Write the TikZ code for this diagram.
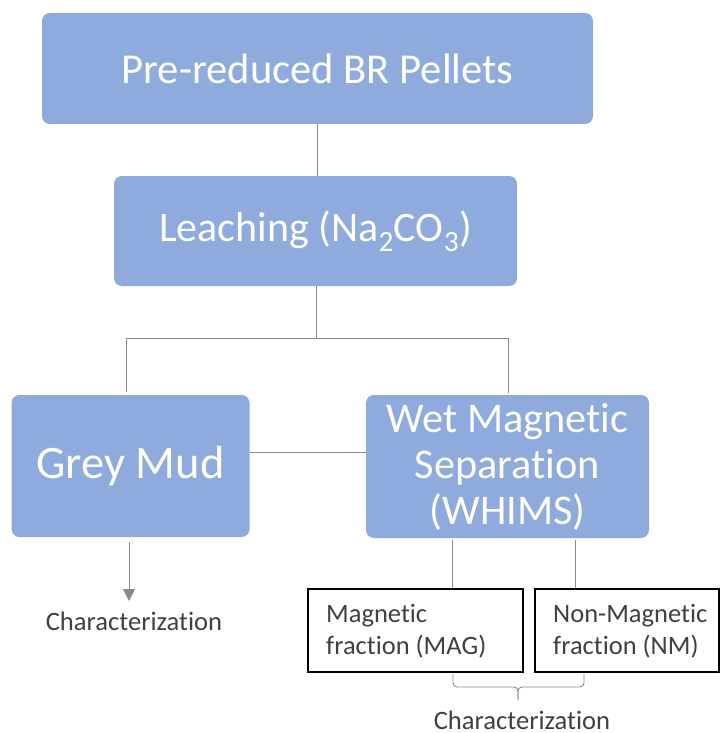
\documentclass[tikz,border=0pt]{standalone}
\usepackage{fontspec}
\setmainfont{Carlito}[Ligatures=NoCommon]
\usetikzlibrary{arrows.meta}
\definecolor{boxblue}{HTML}{8FAADC}
\definecolor{linegray}{HTML}{8A8A8A}
\definecolor{textgray}{HTML}{404040}
\begin{document}
\begin{tikzpicture}[x=1pt,y=-1pt,
  procbox/.style={fill=boxblue, draw=none, rounded corners=8pt, text=white,
    inner sep=0pt, align=center},
  fracbox/.style={draw=black, line width=1.6pt, fill=white, inner sep=0pt},
  fractext/.style={anchor=north west, inner sep=0pt, align=left, text=textgray,
    font=\fontsize{26.5}{32.5}\selectfont},
  conn/.style={draw=linegray, line width=0.9pt},
  note/.style={text=textgray, inner sep=0pt, font=\fontsize{26.6}{32}\selectfont}]
\useasboundingbox (0,0) rectangle (723,733);

% process boxes
\node[procbox, minimum width=551pt, minimum height=111pt,
  font=\fontsize{42.6}{46}\selectfont] (top) at (317.5,68.5) {Pre-reduced BR Pellets};
\node[procbox, minimum width=403pt, minimum height=110pt,
  font=\fontsize{42}{46}\selectfont] (leach) at (315.5,231) {Leaching (Na\textsubscript{2}CO\textsubscript{3})};
\node[procbox, minimum width=238pt, minimum height=142pt,
  font=\fontsize{46.5}{50}\selectfont] (grey) at (130.5,466) {Grey Mud};
\node[procbox, minimum width=283pt, minimum height=143pt,
  font=\fontsize{42.3}{46}\selectfont] (whims) at (507.5,466.5) {Wet Magnetic\\Separation\\(WHIMS)};

% fraction boxes and their texts
\node[fracbox, minimum width=215pt, minimum height=83pt] (mag) at (415.5,630.5) {};
\node[fracbox, minimum width=184pt, minimum height=83pt] (nm) at (627,630.5) {};
\node[fractext] (magtxt) at (326,604) {Magnetic\\fraction (MAG)};
\node[fractext] (nmtxt) at (553,604) {Non-Magnetic\\fraction (NM)};

% labels
\node[note] (charA) at (134,621) {Characterization};
\node[note] (charB) at (522,720) {Characterization};

% connectors
\draw[conn] (top.south) -- (top.south |- leach.north);
\coordinate (split) at (316,338);
\coordinate (bl) at (126,338);
\coordinate (br) at (508,338);
\draw[conn] (leach.south -| split) -- (split);
\draw[conn] (bl |- 0,392) -- (bl) -- (br) -- (br |- 0,393);
\coordinate (gm) at (0,452);
\draw[conn] (grey.east |- gm) -- (whims.west |- gm);
\coordinate (arrTop) at (129,542);
\coordinate (arrTip) at (129,601);
\draw[conn, -{Triangle[length=12pt,width=12pt]}, fill=linegray] (arrTop) -- (arrTip);
\coordinate (ml) at (452,540);
\coordinate (nl) at (575,540);
\draw[conn] (ml) -- (ml |- mag.north);
\draw[conn] (nl) -- (nl |- nm.north);

% brace under both fractions
\coordinate (bra) at (453,674);
\coordinate (brb) at (584,674);
\coordinate (brm) at (518,687);
\coordinate (brt) at (518,700);
\draw[conn, rounded corners=4pt] (bra) -- (bra |- brm) -- (brm) -- (brt);
\draw[conn, rounded corners=4pt] (brb) -- (brb |- brm) -- (brm) -- (brt);
\end{tikzpicture}
\end{document}
